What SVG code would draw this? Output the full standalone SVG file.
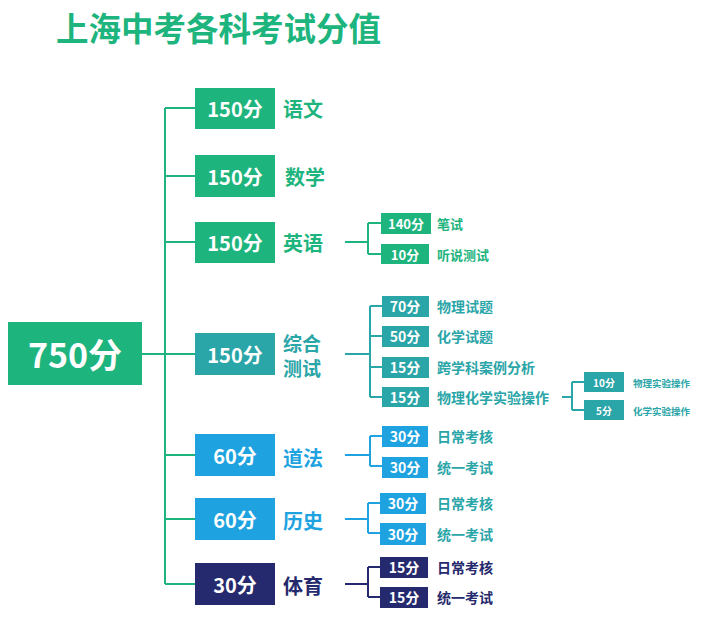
<svg xmlns="http://www.w3.org/2000/svg" width="702" height="621" viewBox="0 0 702 621">
<style>
text{font-family:"Noto Sans CJK SC","Noto Sans",sans-serif;font-weight:bold}
.w{fill:#fff;text-anchor:middle;dominant-baseline:central}
.l{dominant-baseline:central}
.g{fill:#1db47e}.t{fill:#2aa5a8}.b{fill:#1ea3e0}.n{fill:#25296d}
.cg{stroke:#1db47e}.ct{stroke:#2aa5a8}.cb{stroke:#1ea3e0}.cn{stroke:#25296d}
#conn path{fill:none;stroke-width:2}
</style>
<rect width="702" height="621" fill="#fff"/>
<text x="56" y="41" font-size="32.5" class="g">上海中考各科考试分值</text>
<g id="conn">
<path class="cg" d="M142 354H165M165 108V584M165 108H195M165 176H195M165 242H195M165 354H195M165 455H195M165 519H195M165 584H195"/>
<path class="cg" d="M345 242H368M368 223V254M368 223H381M368 254H381"/>
<path class="ct" d="M345 354H370M370 306V397M370 306H382M370 336H382M370 367H382M370 397H382M562 397H572M572 382V410M572 382H584M572 410H584"/>
<path class="cb" d="M345 455H370M370 436V466M370 436H382M370 466H382M345 519H368M368 503V533M368 503H380M368 533H380"/>
<path class="cn" d="M345 584H368M368 567V597M368 567H380M368 597H380"/>
</g>
<g id="root"><rect x="8" y="322" width="134" height="63" class="g"/><text x="75" y="353" font-size="34" class="w">750分</text></g>
<g id="yuwen"><rect x="195" y="88" width="80" height="41" class="g"/><text x="235" y="108" font-size="20" class="w">150分</text><text x="283" y="108" font-size="20" class="l g">语文</text></g>
<g id="shuxue"><rect x="195" y="155" width="80" height="42" class="g"/><text x="235" y="176" font-size="20" class="w">150分</text><text x="285" y="176" font-size="20" class="l g">数学</text></g>
<g id="yingyu"><rect x="195" y="222" width="80" height="41" class="g"/><text x="235" y="242" font-size="20" class="w">150分</text><text x="283" y="242" font-size="20" class="l g">英语</text></g>
<g id="zonghe"><rect x="195" y="333" width="80" height="42" class="t"/><text x="235" y="354" font-size="20" class="w">150分</text><text x="283" y="342" font-size="19" class="l t">综合</text><text x="283" y="367" font-size="19" class="l t">测试</text></g>
<g id="daofa"><rect x="195" y="434" width="80" height="42" class="b"/><text x="235" y="455" font-size="20" class="w">60分</text><text x="283" y="457" font-size="20" class="l b">道法</text></g>
<g id="lishi"><rect x="195" y="498" width="80" height="42" class="b"/><text x="235" y="519" font-size="20" class="w">60分</text><text x="283" y="520" font-size="20" class="l b">历史</text></g>
<g id="tiyu"><rect x="195" y="563" width="80" height="42" class="n"/><text x="235" y="584" font-size="20" class="w">30分</text><text x="283" y="585" font-size="20" class="l n">体育</text></g>
<g id="e1"><rect x="381" y="213" width="50" height="21" class="g"/><text x="406" y="223" font-size="13" class="w">140分</text><text x="437" y="223" font-size="13" class="l g">笔试</text></g>
<g id="e2"><rect x="381" y="244" width="48" height="20" class="g"/><text x="405" y="254" font-size="13" class="w">10分</text><text x="437" y="254" font-size="13" class="l g">听说测试</text></g>
<g id="z1"><rect x="382" y="296" width="47" height="21" class="t"/><text x="405" y="306" font-size="14" class="w">70分</text><text x="437" y="306" font-size="14" class="l t">物理试题</text></g>
<g id="z2"><rect x="382" y="326" width="47" height="21" class="t"/><text x="405" y="336" font-size="14" class="w">50分</text><text x="437" y="336" font-size="14" class="l t">化学试题</text></g>
<g id="z3"><rect x="382" y="357" width="47" height="21" class="t"/><text x="405" y="367" font-size="14" class="w">15分</text><text x="437" y="367" font-size="14" class="l t">跨学科案例分析</text></g>
<g id="z4"><rect x="382" y="387" width="47" height="20" class="t"/><text x="405" y="397" font-size="14" class="w">15分</text><text x="437" y="397" font-size="14" class="l t">物理化学实验操作</text></g>
<g id="z41"><rect x="584" y="372" width="40" height="20" class="t"/><text x="604" y="382" font-size="10" class="w">10分</text><text x="633" y="383" font-size="9.5" class="l t">物理实验操作</text></g>
<g id="z42"><rect x="584" y="400" width="40" height="20" class="t"/><text x="604" y="410" font-size="10" class="w">5分</text><text x="633" y="411" font-size="9.5" class="l t">化学实验操作</text></g>
<g id="d1"><rect x="382" y="426" width="46" height="21" class="b"/><text x="405" y="436" font-size="14" class="w">30分</text><text x="437" y="436" font-size="14" class="l t">日常考核</text></g>
<g id="d2"><rect x="382" y="457" width="46" height="21" class="b"/><text x="405" y="467" font-size="14" class="w">30分</text><text x="437" y="467" font-size="14" class="l t">统一考试</text></g>
<g id="h1"><rect x="380" y="493" width="46" height="21" class="b"/><text x="403" y="503" font-size="14" class="w">30分</text><text x="437" y="503" font-size="14" class="l t">日常考核</text></g>
<g id="h2"><rect x="380" y="523" width="46" height="22" class="b"/><text x="403" y="534" font-size="14" class="w">30分</text><text x="437" y="534" font-size="14" class="l t">统一考试</text></g>
<g id="t1"><rect x="380" y="557" width="48" height="21" class="n"/><text x="404" y="567" font-size="14" class="w">15分</text><text x="437" y="567" font-size="14" class="l n">日常考核</text></g>
<g id="t2"><rect x="380" y="587" width="48" height="21" class="n"/><text x="404" y="597" font-size="14" class="w">15分</text><text x="437" y="597" font-size="14" class="l n">统一考试</text></g>
</svg>
